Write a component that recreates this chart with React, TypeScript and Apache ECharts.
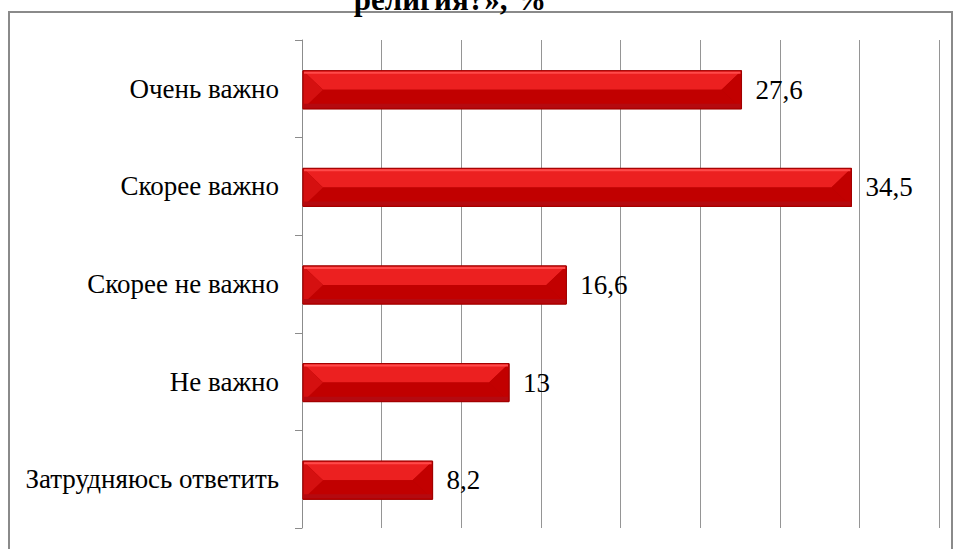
import React, { useEffect, useRef } from "react";
import * as echarts from "echarts";

const categories = [
  "Очень важно",
  "Скорее важно",
  "Скорее не важно",
  "Не важно",
  "Затрудняюсь ответить",
];
const values = [27.6, 34.5, 16.6, 13, 8.2];
const titleText = "религия?», %";
const axisMax = 40;
const axisInterval = 5;

const fmt = (v: number) => String(v).replace(".", ",");
const SERIF = "Times New Roman";

export default function App() {
  const ref = useRef<HTMLDivElement>(null);
  useEffect(() => {
    if (!ref.current) return;
    const chart = echarts.init(ref.current, null, { renderer: "svg" });
    chart.setOption({
      animation: false,
      backgroundColor: "#ffffff",
      grid: {
        left: 302,
        right: 15,
        top: 40,
        bottom: 21,
        containLabel: false,
        outerBoundsMode: "none",
      },
      xAxis: {
        type: "value",
        min: 0,
        max: axisMax,
        interval: axisInterval,
        axisLine: { show: false },
        axisTick: { show: false },
        axisLabel: { show: false },
        splitLine: { show: true, lineStyle: { color: "#959595", width: 1 } },
      },
      yAxis: {
        type: "category",
        inverse: true,
        data: categories,
        axisLine: { show: true, lineStyle: { color: "#8c8c8c", width: 1 } },
        axisTick: { show: true, length: 7, inside: false, lineStyle: { color: "#8c8c8c" } },
        axisLabel: {
          margin: 23,
          color: "#000",
          fontSize: 27,
          fontFamily: SERIF,
        },
      },
      graphic: [
        {
          type: "rect",
          z: 0,
          silent: true,
          shape: { x: 9, y: 12, width: 943, height: 600 },
          style: { fill: "none", stroke: "#8a8a8a", lineWidth: 2 },
        },
        {
          type: "text",
          z: 10,
          x: 450,
          y: 15,
          style: {
            text: titleText,
            fill: "#000",
            fontSize: 31,
            fontWeight: "bold",
            fontFamily: SERIF,
            textAlign: "center",
            textVerticalAlign: "bottom",
          },
        },
      ],
      series: [
        {
          type: "custom",
          encode: { x: 0, y: 1 },
          data: values.map((v, i) => [v, i]),
          renderItem: (params: any, api: any) => {
            const val = api.value(0);
            const idx = api.value(1);
            const p0 = api.coord([0, idx]);
            const p1 = api.coord([val, idx]);
            const band = api.size([0, 1])[1];
            const h = band * 0.39;
            const x0 = p0[0] + 1;
            const x1 = p1[0];
            const y0 = p0[1] - h / 2 + 1;
            const y1 = y0 + h;
            const ym = (y0 + y1) / 2;
            const b = Math.min(20, (x1 - x0) / 2);
            return {
              type: "group",
              children: [
                {
                  type: "rect",
                  shape: { x: x0, y: y0, width: x1 - x0, height: h },
                  style: { fill: "#b30000", stroke: "#9a0000", lineWidth: 1 },
                },
                {
                  type: "polygon",
                  shape: { points: [[x0, y0], [x1, y0], [x1 - b, ym], [x0 + b, ym]] },
                  style: { fill: "#ec2020" },
                },
                {
                  type: "polygon",
                  shape: { points: [[x0, y1], [x1, y1], [x1 - b, ym], [x0 + b, ym]] },
                  style: { fill: "#c10000" },
                },
                {
                  type: "polygon",
                  shape: { points: [[x0, y0], [x0 + b, ym], [x0, y1]] },
                  style: { fill: "#d51010" },
                },
                {
                  type: "polygon",
                  shape: { points: [[x1, y0], [x1 - b, ym], [x1, y1]] },
                  style: { fill: "#c20000" },
                },
                {
                  type: "rect",
                  shape: { x: x0 + 1, y: y0 + 1, width: x1 - x0 - 2, height: 2 },
                  style: { fill: "#ff4a4a" },
                },
                {
                  type: "rect",
                  shape: { x: x0 + 1, y: y1 - 5, width: x1 - x0 - 2, height: 4 },
                  style: { fill: "#b40a10" },
                },
                {
                  type: "rect",
                  shape: { x: x0, y: y0, width: x1 - x0, height: h },
                  style: { fill: "none", stroke: "#a00000", lineWidth: 1 },
                },
                {
                  type: "text",
                  x: x1 + 14,
                  y: ym,
                  style: {
                    text: fmt(val),
                    fill: "#000",
                    fontSize: 27,
                    fontFamily: SERIF,
                    textAlign: "left",
                    textVerticalAlign: "middle",
                  },
                },
              ],
            };
          },
        },
      ],
    });
    return () => chart.dispose();
  }, []);
  return (
    <div
      ref={ref}
      style={{ position: "fixed", left: 0, top: 0, width: 954, height: 549 }}
    />
  );
}
